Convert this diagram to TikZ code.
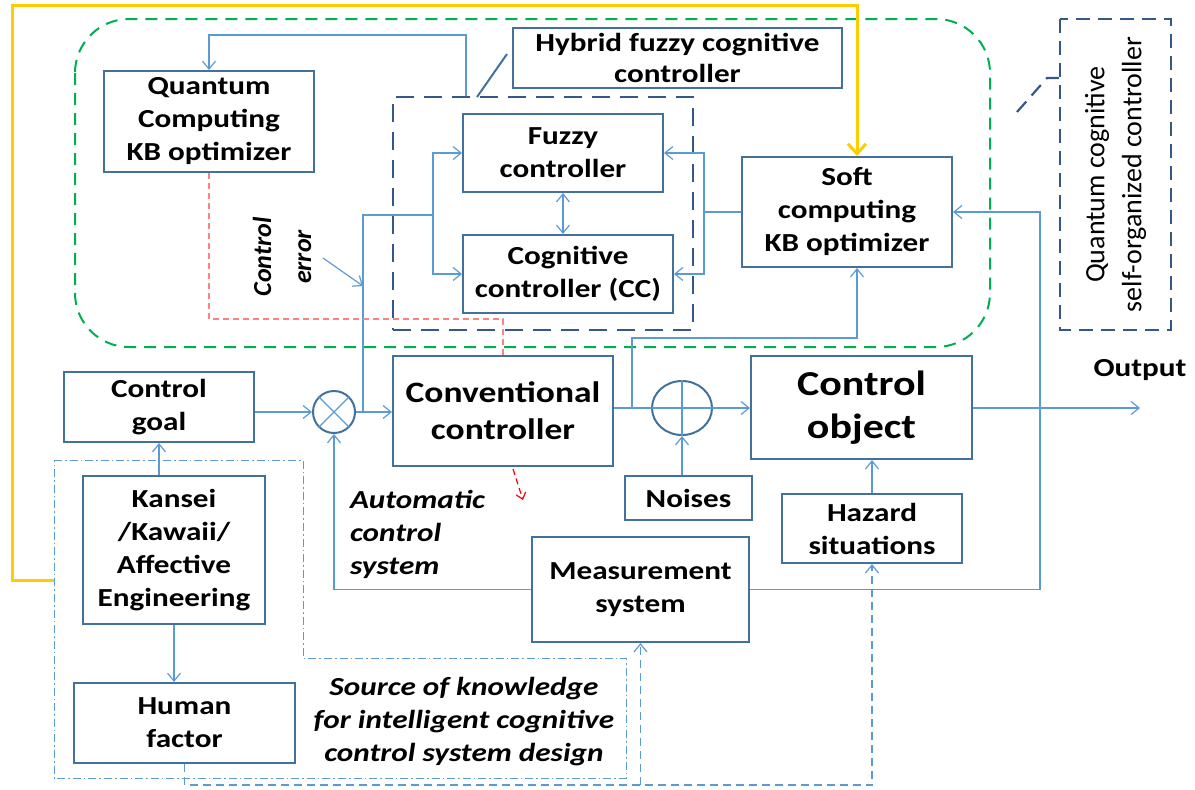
\documentclass[tikz,border=0pt]{standalone}
\usepackage{fontspec}
\setmainfont{Carlito}[FakeStretch=1.2]
\newfontfamily\uprightlbl{Carlito}
\usetikzlibrary{arrows.meta, calc, shapes.geometric}
\definecolor{boxblue}{RGB}{65,113,156}
\definecolor{dashblue}{RGB}{52,88,140}
\definecolor{lineblue}{RGB}{91,155,213}
\definecolor{qgreen}{RGB}{0,176,80}
\definecolor{qyellow}{RGB}{255,204,0}
\definecolor{pinkred}{RGB}{255,130,130}

\begin{document}
\begin{tikzpicture}[x=0.5pt,y=-0.5pt]
	\tikzset{box/.style={draw=boxblue,line width=1pt,align=center,inner sep=0pt,font=\bfseries\fontsize{13}{16.5}\selectfont},
		wh/.style 2 args={minimum width=#1,minimum height=#2},
		line/.style={lineblue,line width=0.6pt},
		arr/.style={line,-{Straight Barb[length=4pt,width=6.5pt]}},
		darr/.style={arr,dash pattern=on 4pt off 2.5pt},
		ddot/.style={line,line width=0.5pt,dash pattern=on 4pt off 1.5pt on 0.8pt off 1.5pt},
		bigdash/.style={draw=dashblue,line width=1.1pt,dash pattern=on 9pt off 5pt},
		lbl/.style={font=\bfseries\itshape\fontsize{13}{16.5}\selectfont}}
	\useasboundingbox (0,0) rectangle (1195,789);
	
	% regions
	\draw[qgreen,line width=1pt,dash pattern=on 6pt off 4pt,rounded corners=27pt] (75,19) rectangle (990,347);
	\draw[ddot] (54,460) -- (303,460) -- (303,658) -- (626,658) -- (626,778) -- (54,778) -- cycle;
	\node[bigdash,wh={150pt}{116.5pt}] (hybrid) at (543,213.5) {};
	\node[bigdash,dash pattern=on 7pt off 4pt,rotate=90,wh={155.5pt}{55.5pt},align=center,font=\uprightlbl\fontsize{14}{18.5}\selectfont] (qc) at (1115.5,174.5) {Quantum cognitive\\self-organized controller};
	
	% blocks
	\node[box,wh={105pt}{50.5pt}] (qkb) at (209,121.5) {Quantum\\Computing\\KB optimizer};
	\node[box,wh={164.5pt}{30pt},font=\bfseries\fontsize{13}{15.5}\selectfont] (hlabel) at (677.5,58) {Hybrid fuzzy cognitive\\controller};
	\node[box,wh={100pt}{39pt}] (fuzzy) at (563,153) {Fuzzy\\controller};
	\node[box,wh={105pt}{39pt}] (cc) at (568,274) {Cognitive\\controller (CC)};
	\node[box,wh={105pt}{55pt}] (soft) at (847,212) {Soft\\computing\\KB optimizer};
	\node[box,wh={95pt}{35pt}] (goal) at (159,407) {Control\\goal};
	\node[box,wh={110pt}{55pt},font=\bfseries\fontsize{14.8}{18.5}\selectfont] (conv) at (503,411) {Conventional\\controller};
	\node[box,wh={110.5pt}{51.5pt},font=\bfseries\fontsize{17.5}{21.5}\selectfont] (obj) at (861.5,407.5) {Control\\object};
	\node[box,wh={63.5pt}{22pt}] (noises) at (688.5,498) {Noises};
	\node[box,wh={90pt}{34.5pt}] (hazard) at (872,528.5) {Hazard\\situations};
	\node[box,wh={108.5pt}{52.5pt}] (meas) at (640.5,589.5) {Measurement\\system};
	\node[box,wh={91pt}{74pt}] (kansei) at (174,550) {Kansei\\/Kawaii/\\Affective\\Engineering};
	\node[box,wh={110.5pt}{40pt}] (human) at (184.5,723) {Human\\factor};
	
	\node[draw=boxblue,line width=1pt,circle,minimum size=21pt,inner sep=0pt] (mult) at (334,412) {};
	\draw[line] (mult.north west) -- (mult.south east) (mult.north east) -- (mult.south west);
	\node[draw=boxblue,line width=1pt,ellipse,minimum width=30pt,minimum height=27pt,inner sep=0pt] (sum) at (682,408) {};
	\draw[line] (sum.north) -- (sum.south) (sum.west) -- (sum.east);
	
	% labels
	\node[rotate=90,align=center,font=\uprightlbl\bfseries\itshape\fontsize{13}{20}\selectfont] (errlbl) at (282,257) {Control\\error};
	\node[lbl,anchor=west,align=left] (autolbl) at (343,534) {Automatic\\control\\system};
	\node[lbl,align=center] (srclbl) at (464,722) {Source of knowledge\\for intelligent cognitive\\control system design};
	\node[font=\bfseries\fontsize{13}{16}\selectfont] (outlbl) at (1140,370) {Output};
	
	\coordinate (err) at (363,412);
	\coordinate (jL) at (433,215);
	\coordinate (jR) at (704,212);
	\coordinate (e0) at (323,258);
	\coordinate (e1) at (363,286);
	\coordinate (qtop) at (466,35);
	\coordinate (hyl) at (477,97);
	\coordinate (hlead) at (507,54);
	\coordinate (rk) at (503,319);
	\coordinate (rd0) at (513,469);
	\coordinate (rd1) at (523,500);
	\coordinate (cb) at (632,408);
	\coordinate (out) at (1140,408);
	\coordinate (fb) at (1040,588);
	\coordinate (hb) at (877,785);
	\coordinate (yl) at (54,580);
	\coordinate (ycorner) at (12,5);
	\coordinate (qcl1) at (1017,112);
	\coordinate (qcl2) at (1047,78);
	
	% main loop
	\draw[arr] (goal.east |- mult.west) -- (mult.west);
	\draw[arr] (mult.east) -- (conv.west |- mult.east);
	\draw[line] (conv.east |- sum.west) -- (sum.west);
	\draw[arr] (sum.east) -- (obj.west |- sum.east);
	\draw[arr] (obj.east |- out) -- (out);
	\draw[arr] (noises.north -| sum.south) -- (sum.south);
	\draw[arr] (hazard.north) -- (hazard.north |- obj.south);
	\draw[arr] (meas.west) -| (mult.south);
	\draw[arr] (meas.east) -| (fb |- soft.east) -- (soft.east);
	\draw[arr] (kansei.north -| goal.south) -- (goal.south);
	\draw[arr] (kansei.south) -- (kansei.south |- human.north);
	
	% intelligent part
	\draw[line] (err) |- (jL);
	\draw[arr] (jL) |- (fuzzy.west);
	\draw[arr] (jL) |- (cc.west);
	\draw[arr] (e0) -- (e1);
	\draw[line] (soft.west) -- (jR);
	\draw[arr] (jR) |- (fuzzy.east);
	\draw[arr] (jR) |- (cc.east);
	\draw[line,{Straight Barb[length=4pt,width=6.5pt]}-{Straight Barb[length=4pt,width=6.5pt]}] (fuzzy.south) -- (fuzzy.south |- cc.north);
	\draw[arr] (cb) -- ++(0,-70) -| ($(soft.south)+(10,0)$);
	\draw[arr] (qtop |- hybrid.north) -- (qtop) -| (qkb.north);
	\draw[boxblue,line width=1pt] (hyl) -- (hlead);
	\draw[bigdash,dash pattern=on 7pt off 4pt] (qcl1) -- (qcl2) -- (qcl2 -| qc.north);
	
	\draw[pinkred,line width=0.6pt,dash pattern=on 3pt off 2pt] (qkb.south) |- (rk) -- (conv.north);
	\draw[red,line width=0.6pt,dash pattern=on 3pt off 2pt,-{Straight Barb[length=3pt,width=5pt]}] (rd0) -- (rd1);
	
	% human factor links
	\draw[darr] (human.south) |- (hazard.south |- hb) -- (hazard.south);
	\draw[darr] (meas.south |- hb) -- (meas.south);
	
	\draw[qyellow,line width=1.5pt,-{Straight Barb[length=5pt,width=9pt]}] (yl) -| (ycorner) -| ($(soft.north)+(10,0)$);
\end{tikzpicture}
\end{document}
